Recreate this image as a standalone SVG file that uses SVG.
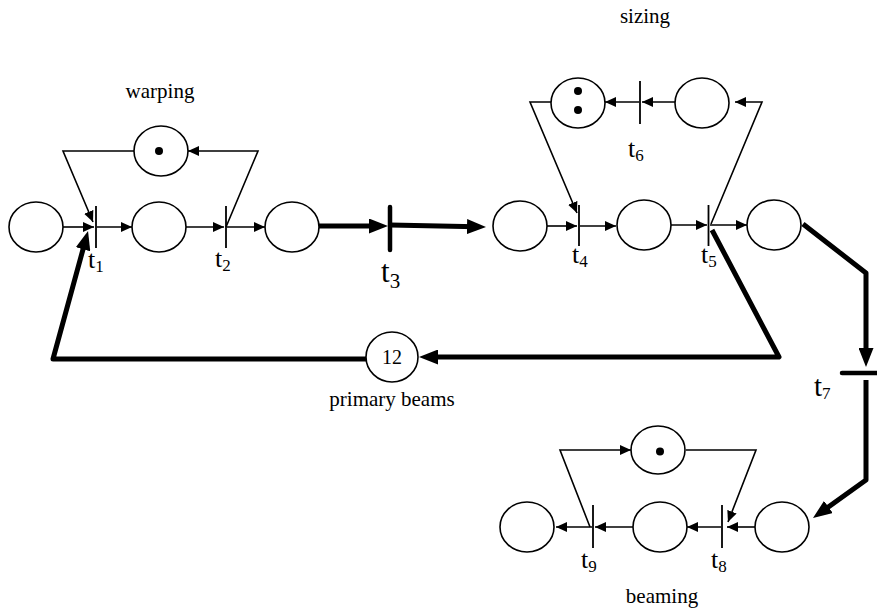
<svg xmlns="http://www.w3.org/2000/svg" width="877" height="610" viewBox="0 0 877 610">
<style>
.pl{fill:#fff;stroke:#000;stroke-width:1.6}
.tk{fill:#000}
.tr{stroke:#000;stroke-width:1.8}
.trb{stroke:#000;stroke-width:4.5;stroke-linecap:round}
.a{fill:none;stroke:#000;stroke-width:1.6;marker-end:url(#ah)}
.ab{fill:none;stroke:#000;stroke-width:5;stroke-linejoin:round;marker-end:url(#ahb)}
.lb{font-family:"Liberation Serif","Times New Roman",serif;font-size:21px;fill:#000;text-anchor:middle}
.tl{font-family:"Liberation Serif","Times New Roman",serif;font-size:26px;fill:#000}
.sub{font-size:17px}
</style>
<defs>
<marker id="ah" markerUnits="userSpaceOnUse" markerWidth="11" markerHeight="10" refX="11" refY="5" orient="auto"><path d="M0,0 L11,5 L0,10 z" fill="#000"/></marker>
<marker id="ahb" markerUnits="userSpaceOnUse" markerWidth="19" markerHeight="15" refX="9" refY="7.5" orient="auto"><path d="M0,0 L19,7.5 L0,15 z" fill="#000"/></marker>
</defs>
<g id="connectors">
<path class="a" d="M63,227 L94,227"/>
<path class="a" d="M97,227 L132,227"/>
<path class="a" d="M186,227 L224,227"/>
<path class="a" d="M227,227 L265,227"/>
<path class="a" d="M134,151 L63,151 L93,222"/>
<path class="a" d="M226,227 L258,151 L188,151"/>
<path class="a" d="M547,226 L577,226"/>
<path class="a" d="M580,226 L616,226"/>
<path class="a" d="M671,225 L707,225"/>
<path class="a" d="M710,225 L747,225"/>
<path class="a" d="M675,102 L642,102"/>
<path class="a" d="M639,102 L605,102"/>
<path class="a" d="M711,224 L762,102 L735,102"/>
<path class="a" d="M551,102 L530,102 L577,213"/>
<path class="a" d="M755,527 L727,527"/>
<path class="a" d="M721,527 L687,527"/>
<path class="a" d="M633,527 L595,527"/>
<path class="a" d="M592,527 L556,527"/>
<path class="a" d="M590,527 L560,450 L631,450"/>
<path class="a" d="M686,450 L756,450 L728,522"/>
<path class="ab" d="M318,226 L378,226"/>
<path class="ab" d="M390,225 L476,226.8"/>
<path class="ab" d="M803,224 L866,273 L866,357"/>
<path class="ab" d="M866,380 L866,480 L821.1,512.2"/>
<path class="ab" d="M712,230 L779,357 L429,357"/>
<path class="ab" d="M366,359 L53,359 L85.4,240.6"/>
</g>
<g id="warping">
<text class="lb" x="160" y="98">warping</text>
<ellipse id="p_warp" class="pl" cx="161" cy="151" rx="27" ry="25"/>
<circle class="tk" cx="159" cy="151" r="4"/>
</g>
<g id="p1"><ellipse class="pl" cx="36" cy="227" rx="27" ry="25"/></g>
<g id="p2"><ellipse class="pl" cx="159" cy="227" rx="27" ry="25"/></g>
<g id="p3"><ellipse class="pl" cx="292" cy="227" rx="27" ry="25"/></g>
<g id="t1"><line class="tr" x1="96" y1="206" x2="96" y2="248"/><text class="tl" x="88" y="268">t<tspan class="sub" dy="4">1</tspan></text></g>
<g id="t2"><line class="tr" x1="226" y1="206" x2="226" y2="248"/><text class="tl" x="215" y="267">t<tspan class="sub" dy="4">2</tspan></text></g>
<g id="t3"><line class="trb" x1="390" y1="207" x2="390" y2="250"/><text class="tl" x="381" y="282" style="font-size:31px">t<tspan class="sub" dy="6" style="font-size:21px">3</tspan></text></g>
<g id="sizing">
<text class="lb" x="645" y="23">sizing</text>
</g>
<g id="p4"><ellipse class="pl" cx="520" cy="226" rx="27" ry="25"/></g>
<g id="p5"><ellipse class="pl" cx="644" cy="225" rx="27" ry="25"/></g>
<g id="p6"><ellipse class="pl" cx="774" cy="225" rx="27" ry="25"/></g>
<g id="p_size_l"><ellipse class="pl" cx="578" cy="103" rx="27" ry="25"/><circle class="tk" cx="578" cy="91" r="4"/><circle class="tk" cx="578" cy="110" r="4"/></g>
<g id="p_size_r"><ellipse class="pl" cx="702" cy="103" rx="27" ry="25"/></g>
<g id="t4"><line class="tr" x1="579" y1="205" x2="579" y2="246"/><text class="tl" x="572" y="263">t<tspan class="sub" dy="4">4</tspan></text></g>
<g id="t5"><line class="tr" x1="708.5" y1="205" x2="708.5" y2="246"/><text class="tl" x="701" y="263">t<tspan class="sub" dy="4">5</tspan></text></g>
<g id="t6"><line class="tr" x1="640" y1="81" x2="640" y2="124"/><text class="tl" x="628" y="157">t<tspan class="sub" dy="4">6</tspan></text></g>
<g id="primary">
<ellipse class="pl" cx="392" cy="357" rx="26" ry="25"/>
<text class="lb" x="392" y="364" style="font-size:20px">12</text>
<text class="lb" x="392" y="406">primary beams</text>
</g>
<g id="t7"><line class="trb" x1="842" y1="373" x2="877" y2="373"/><text class="tl" x="814" y="396" style="font-size:29px">t<tspan class="sub" dy="3">7</tspan></text></g>
<g id="beaming">
<text class="lb" x="662" y="603">beaming</text>
<ellipse id="p_beam" class="pl" cx="658" cy="450" rx="27" ry="24"/>
<circle class="tk" cx="660" cy="451.5" r="4"/>
</g>
<g id="p7"><ellipse class="pl" cx="527" cy="527" rx="27" ry="25"/></g>
<g id="p8"><ellipse class="pl" cx="660" cy="527" rx="27" ry="25"/></g>
<g id="p9"><ellipse class="pl" cx="782" cy="527" rx="27" ry="25"/></g>
<g id="t8"><line class="tr" x1="722" y1="505" x2="722" y2="548"/><text class="tl" x="711" y="568">t<tspan class="sub" dy="4">8</tspan></text></g>
<g id="t9"><line class="tr" x1="593" y1="505" x2="593" y2="548"/><text class="tl" x="581" y="568">t<tspan class="sub" dy="4">9</tspan></text></g>
</svg>
